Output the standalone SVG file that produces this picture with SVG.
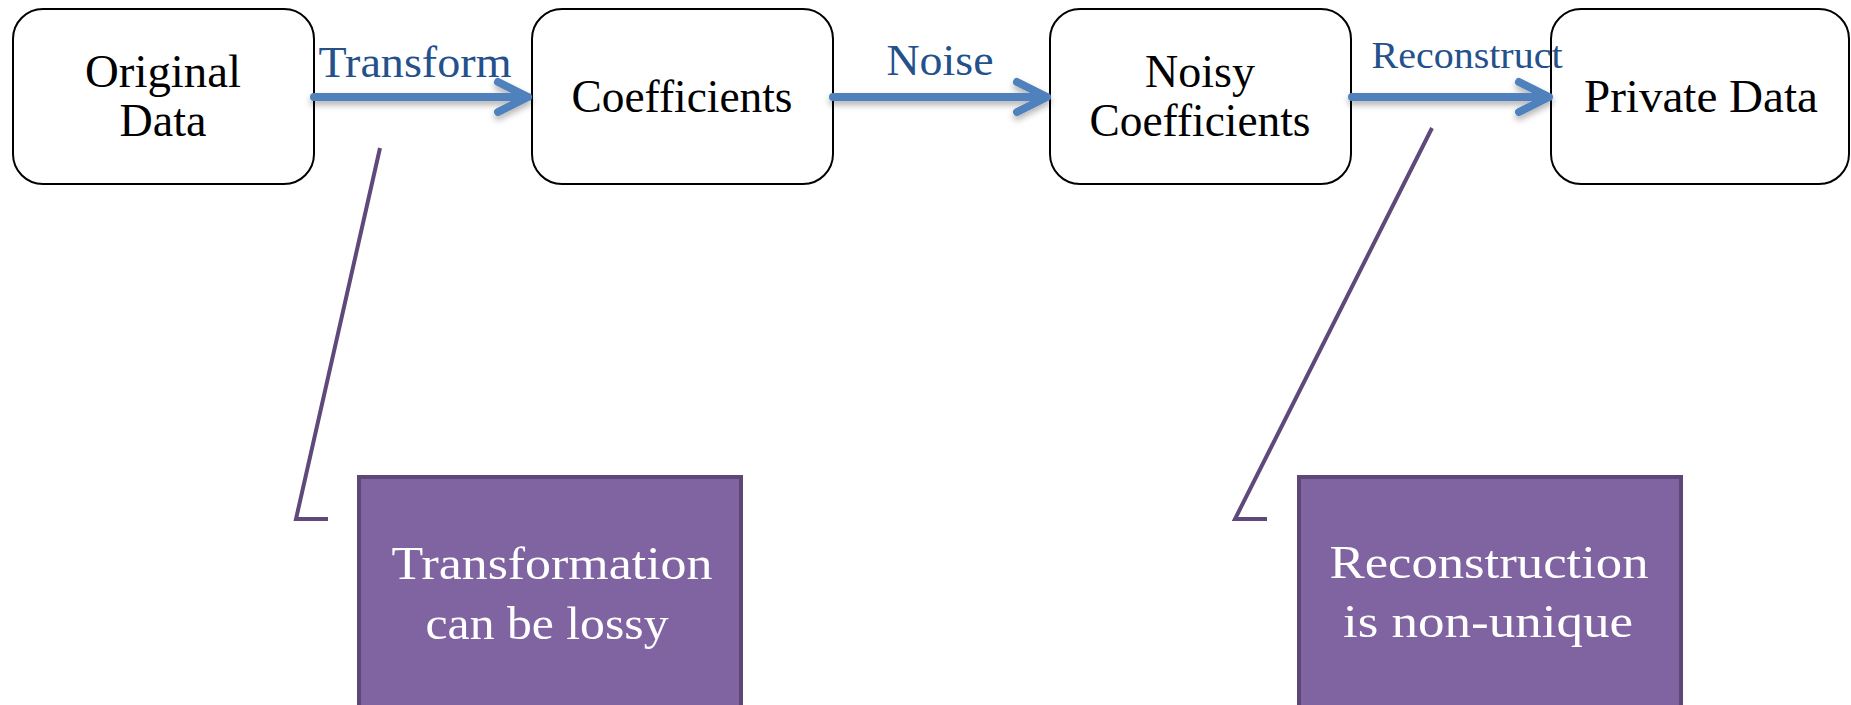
<svg xmlns="http://www.w3.org/2000/svg" width="1851" height="705" viewBox="0 0 1851 705">
<style>
.node rect{fill:#fff;stroke:#000;stroke-width:2}
.nt{font-family:"Liberation Serif",serif;font-size:46px;fill:#000;text-anchor:middle}
.lbl{font-family:"Liberation Serif",serif;font-size:45px;fill:#24508C;text-anchor:middle}
.arrow{fill:none;stroke:#4F81BD;stroke-width:8;stroke-linecap:round;stroke-linejoin:round}
.call{fill:none;stroke:#5F497A;stroke-width:4}
.note rect{fill:#8064A2;stroke:#5C4776;stroke-width:4}
.wt{font-family:"Liberation Serif",serif;font-size:47px;fill:#fff;text-anchor:middle}
</style>
<defs>
<filter id="sh" x="-10%" y="-50%" width="120%" height="200%">
<feDropShadow dx="0" dy="4" stdDeviation="3" flood-color="#000" flood-opacity="0.3"/>
</filter>
</defs>
<rect width="1851" height="705" fill="#fff"/>
<g id="n-original" class="node">
<rect x="13" y="9" width="301" height="175" rx="30"/>
<text class="nt" x="163" y="87" textLength="156" lengthAdjust="spacingAndGlyphs">Original</text>
<text class="nt" x="163" y="136">Data</text>
</g>
<g id="n-coeff" class="node">
<rect x="532" y="9" width="301" height="175" rx="30"/>
<text class="nt" x="682" y="112" textLength="221" lengthAdjust="spacingAndGlyphs">Coefficients</text>
</g>
<g id="n-noisy" class="node">
<rect x="1050" y="9" width="301" height="175" rx="30"/>
<text class="nt" x="1200" y="87">Noisy</text>
<text class="nt" x="1200" y="136" textLength="221" lengthAdjust="spacingAndGlyphs">Coefficients</text>
</g>
<g id="n-private" class="node">
<rect x="1551" y="9" width="298" height="175" rx="30"/>
<text class="nt" x="1701" y="112" textLength="234" lengthAdjust="spacingAndGlyphs">Private Data</text>
</g>
<g id="note-lossy" class="note">
<rect x="359" y="477" width="382" height="232"/>
<text class="wt" x="552" y="579" textLength="321" lengthAdjust="spacingAndGlyphs">Transformation</text>
<text class="wt" x="547" y="639" textLength="243" lengthAdjust="spacingAndGlyphs">can be lossy</text>
</g>
<g id="note-nonunique" class="note">
<rect x="1299" y="477" width="382" height="232"/>
<text class="wt" x="1489" y="578" textLength="319" lengthAdjust="spacingAndGlyphs">Reconstruction</text>
<text class="wt" x="1488" y="637" textLength="290" lengthAdjust="spacingAndGlyphs">is non-unique</text>
</g>
<g id="connectors">
<g filter="url(#sh)">
<path class="arrow" d="M314 97H528M498 82L528 97L498 112"/>
<path class="arrow" d="M833 97H1047M1017 82L1047 97L1017 112"/>
<path class="arrow" d="M1352 97H1549M1519 82L1549 97L1519 112"/>
</g>
<text class="lbl" x="415" y="77" textLength="193" lengthAdjust="spacingAndGlyphs">Transform</text>
<text class="lbl" x="940" y="75" textLength="107" lengthAdjust="spacingAndGlyphs">Noise</text>
<text class="lbl" x="1467" y="68" style="font-size:37px" textLength="191" lengthAdjust="spacingAndGlyphs">Reconstruct</text>
<polyline class="call" points="380,148 296,519 328,519"/>
<polyline class="call" points="1432,128 1235,519 1267,519"/>
</g>
</svg>
